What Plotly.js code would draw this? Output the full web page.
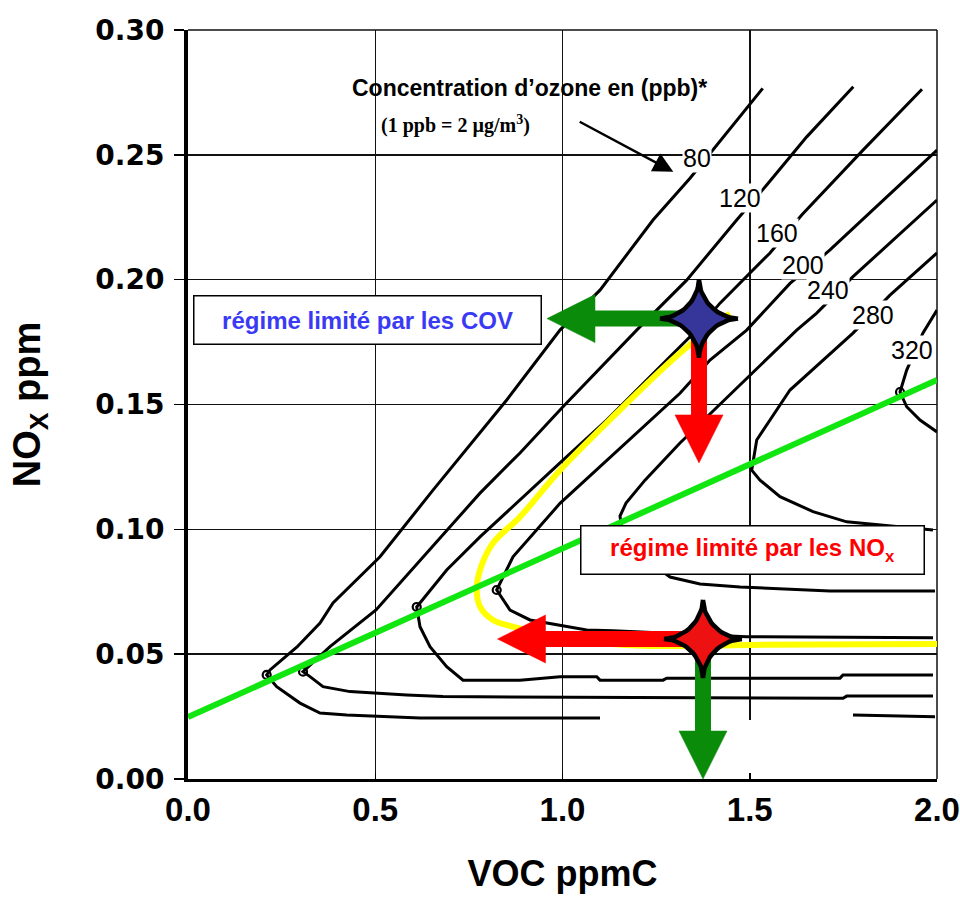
<!DOCTYPE html>
<html><head><meta charset="utf-8">
<script src="https://cdn.plot.ly/plotly-3.0.1.min.js"></script>
<style>html,body{margin:0;padding:0;background:#fff}</style>
</head><body><div id="chart" style="width:960px;height:899px"></div>
<script>
// ---- Data: ozone isopleths (ppb) on VOC (ppmC) x NOx (ppm) ----
const isoLevels = ['80','120','160','200','240','280','320'];

const iso80X  = [1.5346,1.4072,1.3405,1.2417,1.1001,0.9933,0.8510,0.6542,0.5127,0.3872,0.3525,0.2911,0.2190,0.2101,0.2368,0.2991,0.3525,0.4238,0.6195,1.1001,null,1.7757,1.9947];
const iso80Y  = [0.2766,0.2532,0.2406,0.2239,0.1958,0.1798,0.1518,0.1157,0.0890,0.0705,0.0625,0.0529,0.0437,0.0417,0.0370,0.0304,0.0264,0.0256,0.0244,0.0244,null,0.0256,0.0249];

const iso120X = [1.7765,1.6521,1.5453,1.4651,1.3316,1.1981,1.0013,0.8865,0.7797,0.6275,0.5020,0.3792,0.3071,0.3258,0.3605,0.4326,0.5039,0.5840,0.6809,1.7490,1.7589,1.9893];
const iso120Y = [0.2773,0.2572,0.2379,0.2239,0.1998,0.1798,0.1491,0.1306,0.1145,0.0890,0.0677,0.0530,0.0430,0.0410,0.0370,0.0350,0.0343,0.0336,0.0330,0.0323,0.0332,0.0332];

const iso160X = [1.9599,1.8024,1.6387,1.5541,1.4206,1.3672,1.2782,1.1180,0.9933,0.8678,0.7797,0.6908,0.6107,0.6195,0.6462,0.6908,0.7343,0.8865,0.9933,1.0913,1.1001,1.2684,1.2782,1.7410,1.7490,1.9893];
const iso160Y = [0.2763,0.2519,0.2259,0.2107,0.1906,0.1811,0.1678,0.1438,0.1266,0.1091,0.0970,0.0837,0.0689,0.0610,0.0530,0.0450,0.0396,0.0396,0.0410,0.0410,0.0396,0.0396,0.0404,0.0404,0.0417,0.0417];

const iso200X = [2.0000,1.7143,1.6075,1.4918,1.3939,1.3137,0.9933,0.8678,0.8243,0.8598,0.9132,0.9933,1.0646,1.1348,1.4918,1.9893];
const iso200Y = [0.2519,0.2119,0.1985,0.1798,0.1678,0.1545,0.1104,0.0890,0.0757,0.0677,0.0637,0.0617,0.0597,0.0594,0.0570,0.0566];

const iso240X = [2.0000,1.7757,1.6788,1.6254,1.3137,1.2203,1.1696,1.1535,1.1589,1.1802,1.2336,1.2871,1.3672,1.4740,1.7143,1.9947];
const iso240Y = [0.2319,0.2012,0.1866,0.1798,0.1346,0.1197,0.1105,0.1053,0.0997,0.0957,0.0869,0.0809,0.0781,0.0769,0.0753,0.0753];

const iso280X = [2.0000,1.8745,1.7757,1.6876,1.6075,1.5541,1.5186,1.5052,1.5274,1.5808,1.6689,1.7589,1.8478,1.9893];
const iso280Y = [0.2107,0.1938,0.1786,0.1666,0.1558,0.1438,0.1358,0.1237,0.1197,0.1131,0.1071,0.1030,0.1017,0.0997];

const iso320X = [2.0000,1.9626,1.9191,1.9066,1.9012,1.9191,1.9546,2.0000];
const iso320Y = [0.1878,0.1787,0.1638,0.1578,0.1550,0.1491,0.1438,0.1390];

// contour label anchor points
const labelX = [1.3583,1.4740,1.5720,1.6422,1.7089,1.8291,1.9324];
const labelY = [0.2487,0.2327,0.2185,0.2058,0.1958,0.1858,0.1718];

// small loops at the isopleth knees
const kneeX = [0.2101,0.3071,0.6107,0.8243,1.9012];
const kneeY = [0.0417,0.0430,0.0689,0.0757,0.1550];

// yellow path (ozone-reduction trajectory)
const pathX = [1.4473,1.3137,1.1348,0.9933,0.8865,0.8144,0.7797,0.7709,0.7797,0.8144,0.8678,0.9132,0.9933,1.1001,1.2336,1.5007,2.0000];
const pathY = [0.1865,0.1706,0.1451,0.1237,0.1050,0.0945,0.0837,0.0757,0.0690,0.0637,0.0610,0.0593,0.0565,0.0545,0.0533,0.0537,0.0541];

// green ridge line separating the regimes
const ridgeX = [0.0, 2.0];
const ridgeY = [0.0248, 0.1598];

// two scenario points (stars) and the arrows leaving them
const starX = [1.3645, 1.3752];
const starY = [0.1844, 0.0561];
const arrowStar = [0, 0, 1, 1];
const arrowTipX = [0.9586, 1.3645, 0.8264, 1.3752];
const arrowTipY = [0.1844, 0.1266, 0.0561, 0.0000];

const xTicks = [0, 0.5, 1.0, 1.5, 2.0];
const xTickText = ['0.0','0.5','1.0','1.5','2.0'];
const yTicks = [0, 0.05, 0.10, 0.15, 0.20, 0.25, 0.30];
const yTickText = ['0.00','0.05','0.10','0.15','0.20','0.25','0.30'];

// ---- Layout / styles ----
const W = 960, H = 899;
const M = {l:188, r:23, t:30, b:120};
const XR = [0, 2], YR = [0, 0.3];
const kx = (W - M.l - M.r) / (XR[1] - XR[0]);
const ky = (H - M.t - M.b) / (YR[1] - YR[0]);

const isoX = [iso80X, iso120X, iso160X, iso200X, iso240X, iso280X, iso320X];
const isoY = [iso80Y, iso120Y, iso160Y, iso200Y, iso240Y, iso280Y, iso320Y];

const traces = [];
isoX.forEach((xs, i) => {
  traces.push({x: xs, y: isoY[i], type: 'scatter', mode: 'lines', name: isoLevels[i] + ' ppb',
    line: {color: '#000', width: 3, shape: 'linear'}, hoverinfo: 'skip', connectgaps: false});
});
traces.push({x: kneeX, y: kneeY, type: 'scatter', mode: 'markers',
  marker: {symbol: 'circle-open', size: 8, color: '#000', line: {width: 2.2, color: '#000'}}, hoverinfo: 'skip'});
traces.push({x: pathX, y: pathY, type: 'scatter', mode: 'lines', line: {color: '#ffff00', width: 6, shape: 'spline', smoothing: 1.0}, hoverinfo: 'skip'});
traces.push({x: ridgeX, y: ridgeY, type: 'scatter', mode: 'lines', line: {color: '#11e611', width: 6}, hoverinfo: 'skip'});

const arrowColors = ['#0a8c0a', '#ff0000', '#ff0000', '#0a8c0a'];
const HL = 48, HW = 24, SW = 16;
arrowTipX.forEach((tx, i) => {
  const sx = starX[arrowStar[i]], sy = starY[arrowStar[i]];
  const ty = arrowTipY[i];
  const dxp = (tx - sx) * kx, dyp = (ty - sy) * ky;
  const L = Math.hypot(dxp, dyp);
  const ux = dxp / L, uy = dyp / L;
  const bx = tx - ux * HL / kx, by = ty - uy * HL / ky;
  const bx2 = tx - ux * (HL - 2) / kx, by2 = ty - uy * (HL - 2) / ky;
  const px = -uy, py = ux;
  traces.push({x: [sx, bx2], y: [sy, by2], type: 'scatter', mode: 'lines',
    line: {color: arrowColors[i], width: SW}, hoverinfo: 'skip'});
  traces.push({x: [bx + px * HW / kx, tx, bx - px * HW / kx, bx + px * HW / kx],
    y: [by + py * HW / ky, ty, by - py * HW / ky, by + py * HW / ky],
    type: 'scatter', mode: 'lines', fill: 'toself', fillcolor: arrowColors[i],
    line: {color: arrowColors[i], width: 0.5}, hoverinfo: 'skip'});
});

// four-pointed star glyphs centred on the scenario points
const starColors = ['#36369a', '#ee1111'];
const STAR_R = 39, STAR_P = 3.4, STAR_N = 120;
starX.forEach((cx0, i) => {
  const xs = [], ys = [];
  for (let k = 0; k <= STAR_N; k++) {
    const t = 2 * Math.PI * k / STAR_N, c = Math.cos(t), s = Math.sin(t);
    xs.push(cx0 + Math.sign(c) * Math.pow(Math.abs(c), STAR_P) * STAR_R / kx);
    ys.push(starY[i] + Math.sign(s) * Math.pow(Math.abs(s), STAR_P) * STAR_R / ky);
  }
  traces.push({x: xs, y: ys, type: 'scatter', mode: 'lines', fill: 'toself', fillcolor: starColors[i],
    line: {color: '#000', width: 4.5}, hoverinfo: 'skip'});
});

const labelAnns = isoLevels.map((t, i) => ({
  x: labelX[i], y: labelY[i], xref: 'x', yref: 'y', text: t, showarrow: false,
  font: {family: 'Liberation Sans, Arial, sans-serif', size: 25, color: '#000'},
  bgcolor: '#fff', borderpad: 0
}));

const layout = {
  width: W, height: H, margin: M, showlegend: false,
  paper_bgcolor: '#fff', plot_bgcolor: '#fff',
  xaxis: {
    range: XR, tickmode: 'array', tickvals: xTicks, ticktext: xTickText,
    showgrid: true, gridcolor: '#111', gridwidth: 1.5, zeroline: false,
    showline: true, linecolor: '#000', linewidth: 2.5,
    ticks: 'inside', ticklen: 6, tickwidth: 1.5, tickcolor: '#000',
    ticklabeloverflow: 'allow',
    tickfont: {family: "'Liberation Sans', Arial, sans-serif", size: 33, weight: 'bold', color: '#000'},
    title: {text: 'VOC ppmC', standoff: 34, font: {family: 'Liberation Sans, Arial, sans-serif', size: 36, weight: 'bold', color: '#000'}}
  },
  yaxis: {
    range: YR, tickmode: 'array', tickvals: yTicks, ticktext: yTickText,
    showgrid: true, gridcolor: '#111', gridwidth: 1.5, zeroline: false,
    showline: true, linecolor: '#000', linewidth: 4,
    ticks: 'outside', ticklen: 10, tickwidth: 1.5, tickcolor: '#000',
    ticklabelstandoff: 4,
    tickfont: {family: "'DejaVu Sans', sans-serif", size: 28, weight: 'bold', color: '#000'},
    title: {text: 'NO<sub>X</sub> ppm', standoff: 44, font: {family: 'Liberation Sans, Arial, sans-serif', size: 38, weight: 'bold', color: '#000'}}
  },
  shapes: [
    {type: 'line', xref: 'paper', yref: 'paper', x0: 0, x1: 1, y0: 1, y1: 1, line: {color: '#111', width: 1.5}, layer: 'below'},
    {type: 'line', xref: 'paper', yref: 'paper', x0: 1, x1: 1, y0: 0, y1: 1, line: {color: '#111', width: 1.5}, layer: 'below'},
    {type: 'rect', xref: 'x', yref: 'y', x0: 1.1001, x1: 1.7757, y0: 0.0012, y1: 0.0236, fillcolor: '#fff', line: {width: 0}, layer: 'between'}
  ],
  annotations: labelAnns.concat([
    {x: 0.9132, y: 0.2767, xref: 'x', yref: 'y', showarrow: false,
     text: 'Concentration d’ozone en (ppb)*',
     font: {family: 'Liberation Sans, Arial, sans-serif', size: 23, weight: 'bold', color: '#000'}},
    {x: 0.7156, y: 0.2623, xref: 'x', yref: 'y', showarrow: false,
     text: '(1 ppb = 2 µg/m<sup>3</sup>)',
     font: {family: "'Liberation Serif', 'Times New Roman', serif", size: 20, weight: 'bold', color: '#000'}},
    {x: 1.2959, y: 0.2432, ax: 1.0379, ay: 0.2639, xref: 'x', yref: 'y', axref: 'x', ayref: 'y',
     text: ' ', showarrow: true, arrowhead: 2, arrowsize: 1.6, arrowwidth: 2.5, arrowcolor: '#000'},
    {x: 0.4806, y: 0.1840, xref: 'x', yref: 'y', showarrow: false,
     text: 'régime limité par les COV', width: 346, height: 47, borderpad: 0,
     bgcolor: '#fff', bordercolor: '#000', borderwidth: 1.5,
     font: {family: 'Liberation Sans, Arial, sans-serif', size: 24, weight: 'bold', color: '#3a3af5'}},
    {x: 1.5073, y: 0.0917, xref: 'x', yref: 'y', showarrow: false,
     text: 'régime limité par les NO<sub>x</sub>', width: 342, height: 47, borderpad: 0,
     bgcolor: '#fff', bordercolor: '#000', borderwidth: 1.5,
     font: {family: 'Liberation Sans, Arial, sans-serif', size: 24, weight: 'bold', color: '#ff0000'}}
  ])
};

Plotly.newPlot('chart', traces, layout, {displayModeBar: false, staticPlot: true});
</script>
</body></html>
